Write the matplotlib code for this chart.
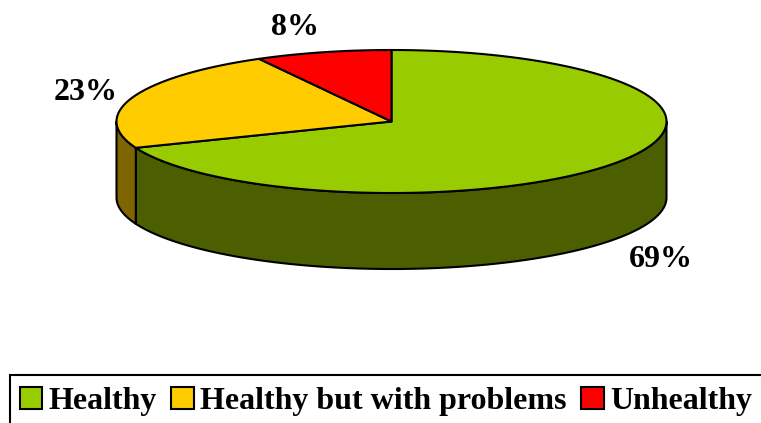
import numpy as np
import matplotlib.pyplot as plt
from matplotlib.patches import Polygon, Patch, Rectangle

# data
categories = ['Healthy', 'Healthy but with problems', 'Unhealthy']
shares = [69, 23, 8]
labels = ['69%', '23%', '8%']

topColors = ['#99CC00', '#FFCC00', '#FF0000']
sideColors = ['#4B5F00', '#7F6500', '#800000']

# layout of the fake 3d pie (pixels)
cx, cy = 391.5, 121.5
a, b = 275.0, 71.5
depth = 76.0
labelXY = [(661, 267), (86, 100), (295, 35)]

W, H = 761, 423
fig = plt.figure(figsize=(W / 100, H / 100), dpi=100)
ax = fig.add_axes([0, 0, 1, 1])
ax.set_xlim(0, W)
ax.set_ylim(H, 0)
ax.axis('off')

fontProps = dict(family='Liberation Serif', weight='bold', size=23)
lw = 1.5


def arc(t0, t1, dy=0.0, n=200):
    t = np.radians(np.linspace(t0, t1, n))
    return np.column_stack([cx + a * np.cos(t), cy - b * np.sin(t) + dy])


# wedge angles, clockwise from 12 o'clock
total = float(sum(shares))
cum = np.concatenate([[0], np.cumsum(shares)]) / total * 360.0
wedges = []
for i in range(len(shares)):
    hi = 90.0 - cum[i]
    lo = 90.0 - cum[i + 1]
    lo_n = lo % 360.0
    wedges.append((lo_n, lo_n + (hi - lo)))

# side walls (front half only)
for i, (lo, hi) in enumerate(wedges):
    for f0, f1 in [(180.0, 360.0), (540.0, 720.0), (-180.0, 0.0)]:
        s0, s1 = max(lo, f0), min(hi, f1)
        if s1 <= s0:
            continue
        pts = np.vstack([arc(s0, s1), arc(s1, s0, depth)])
        ax.add_patch(Polygon(pts, closed=True, facecolor=sideColors[i],
                             edgecolor='black', lw=lw, joinstyle='round', zorder=2))

# top faces
for i, (lo, hi) in enumerate(wedges):
    pts = np.vstack([[cx, cy], arc(lo, hi)])
    ax.add_patch(Polygon(pts, closed=True, facecolor=topColors[i],
                         edgecolor='black', lw=lw, joinstyle='round', zorder=3))

for txt, (x, y) in zip(labels, labelXY):
    ax.text(x, y, txt, ha='center', va='baseline', zorder=5, **fontProps)

# legend box runs off the right/bottom edge like the original
ax.add_patch(Rectangle((10, 375), 800, 80, facecolor='white', edgecolor='black',
                       lw=lw, zorder=4, clip_on=False))

handles = [Patch(facecolor=c, edgecolor='black', lw=lw) for c in topColors]
leg = fig.legend(handles, categories, ncol=3, loc='upper left',
                 bbox_to_anchor=(10 / W, 1 - 377 / H), borderaxespad=0,
                 prop=fontProps, frameon=False,
                 handlelength=0.7, handleheight=0.7, handletextpad=0.19,
                 columnspacing=0.47, borderpad=0.3)
leg.set_zorder(6)

fig.savefig('out.png', dpi=100)
plt.close(fig)
